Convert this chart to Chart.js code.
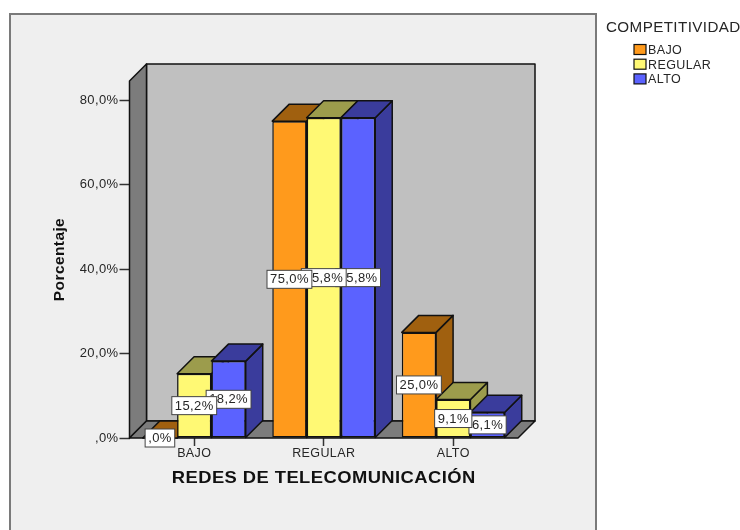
<!DOCTYPE html>
<html><head><meta charset="utf-8">
<style>html,body{margin:0;padding:0;background:#fff}#box{position:relative;width:740px;height:530px}</style>
<script src="https://cdn.jsdelivr.net/npm/chart.js@4"></script>
</head><body><div id="box"><canvas id="c" width="740" height="530"></canvas></div>
<script>
const categories = ['BAJO','REGULAR','ALTO'];
const seriesNames = ['BAJO','REGULAR','ALTO'];
const bajo = [0, 75.0, 25.0];
const regular = [15.2, 75.8, 9.1];
const alto = [18.2, 75.8, 6.1];
const tickValues = [0, 20, 40, 60, 80];
const legendTitle = 'COMPETITIVIDAD';
const xTitle = 'REDES DE TELECOMUNICACIÓN';
const yTitle = 'Porcentaje';
const FRONT = ['#FF9A1C','#FFF974','#5B62FF'];
const DARK = ['#A0600F','#9C9C4C','#3A3C9C'];
const TOPS = ['#A0600F','#9C9C4C','#3A3C9C'];
const DEPTH = 17, FONT = 'Liberation Sans, Arial, sans-serif', INK = '#262626', LINE = '#111';
const pct = v => (v === 0 ? ',0' : v.toFixed(1).replace('.', ',')) + '%';
function poly(ctx, pts, fill){
  ctx.beginPath(); pts.forEach((p,i)=> i?ctx.lineTo(p[0],p[1]):ctx.moveTo(p[0],p[1])); ctx.closePath();
  ctx.fillStyle = fill; ctx.fill(); ctx.strokeStyle = LINE; ctx.lineWidth = 1.5; ctx.lineJoin='round'; ctx.stroke();
}
const scene = {
  id:'scene',
  beforeDraw(chart){
    const {ctx,width,height} = chart;
    ctx.letterSpacing='0.4px';
    ctx.save();
    ctx.fillStyle='#fff'; ctx.fillRect(0,0,width,height);
    ctx.fillStyle='#EFEFEF'; ctx.fillRect(10,14,586,height);
    ctx.strokeStyle='#7A7A7A'; ctx.lineWidth=2; ctx.strokeRect(10,14,586,height+10);
    ctx.fillStyle=INK; ctx.textBaseline='middle'; ctx.textAlign='left';
    ctx.font='15.2px '+FONT; ctx.fillText(legendTitle,606,28);
    ctx.font='12.5px '+FONT;
    chart.data.datasets.forEach((ds,i)=>{
      const y = 49.5 + i*14.7;
      ctx.fillStyle=ds.backgroundColor; ctx.strokeStyle=LINE; ctx.lineWidth=1.2;
      ctx.fillRect(634,y-5,12,10); ctx.strokeRect(634,y-5,12,10);
      ctx.fillStyle=INK; ctx.fillText(ds.label,648,y+1);
    });
    ctx.restore();
  },
  beforeDatasetsDraw(chart){
    const {ctx,chartArea:{left:l,right:r,top:t,bottom:b}} = chart;
    const d = DEPTH;
    ctx.save();
    poly(ctx,[[l+d,t-d],[r+d,t-d],[r+d,b-d],[l+d,b-d]],'#C0C0C0');
    poly(ctx,[[l,t],[l+d,t-d],[l+d,b-d],[l,b]],'#7C7C7C');
    poly(ctx,[[l,b],[l+d,b-d],[r+d,b-d],[r,b]],'#7C7C7C');
    chart.data.datasets.forEach((ds,i)=>{
      chart.getDatasetMeta(i).data.forEach(bar=>{
        const p = bar.getProps(['x','y','base','width'],true);
        const x0=p.x-p.width/2, x1=p.x+p.width/2;
        poly(ctx,[[x1,p.y],[x1+d,p.y-d],[x1+d,p.base-d],[x1,p.base]],DARK[i]);
        poly(ctx,[[x0,p.y],[x0+d,p.y-d],[x1+d,p.y-d],[x1,p.y]],TOPS[i]);
      });
    });
    ctx.restore();
  },
  afterDatasetsDraw(chart){
    const {ctx} = chart;
    ctx.save();
    ctx.font='13px '+FONT; ctx.textAlign='center'; ctx.textBaseline='middle';
    for(let i=chart.data.datasets.length-1;i>=0;i--){
      const ds = chart.data.datasets[i];
      chart.getDatasetMeta(i).data.forEach((bar,j)=>{
        const p = bar.getProps(['x','y','base'],true);
        const cy=(p.y+p.base)/2, txt=pct(ds.data[j]);
        const w=ctx.measureText(txt).width+6, h=18;
        ctx.fillStyle='#fff'; ctx.strokeStyle='#444'; ctx.lineWidth=1;
        ctx.fillRect(p.x-w/2,cy-h/2,w,h); ctx.strokeRect(p.x-w/2,cy-h/2,w,h);
        ctx.fillStyle=INK; ctx.fillText(txt,p.x,cy+0.5);
      });
    }
    ctx.restore();
  }
};
const mk = (name,data,i)=>({label:name,data,backgroundColor:FRONT[i],borderColor:LINE,borderWidth:1.5,borderSkipped:false,categoryPercentage:0.795,barPercentage:1,clip:false});
new Chart(document.getElementById('c'),{
  type:'bar',
  data:{labels:categories,datasets:[mk(seriesNames[0],bajo,0),mk(seriesNames[1],regular,1),mk(seriesNames[2],alto,2)]},
  plugins:[scene],
  options:{
    responsive:false,animation:false,
    layout:{padding:{left:0,top:81,right:222,bottom:0}},
    plugins:{legend:{display:false},tooltip:{enabled:false}},
    scales:{
      x:{
        afterFit(s){
          s.height=92;
          if(!s._wrapped){
            s._wrapped=true;
            const orig=s.drawTitle;
            s.drawTitle=function(){
              const ctx=this.ctx, cx=(this.left+this.right)/2;
              ctx.save(); ctx.translate(cx,0); ctx.scale(1.113,1); ctx.translate(-cx,0);
              orig.call(this); ctx.restore();
            };
          }
        },
        grid:{display:true,drawOnChartArea:false,tickLength:8,color:'#333',tickWidth:1.5,offset:false},
        border:{display:false},
        ticks:{color:INK,font:{family:FONT,size:12.5},padding:0,maxRotation:0},
        title:{display:true,text:xTitle,color:'#111',font:{family:FONT,size:16.5,weight:'bold'},padding:{top:0,bottom:42}}
      },
      y:{
        min:0,max:84.5,
        afterFit(s){s.width=129.5;},
        afterBuildTicks(s){s.ticks=tickValues.map(v=>({value:v}));},
        grid:{display:true,drawOnChartArea:false,tickLength:10,color:'#333',tickWidth:1.5},
        border:{display:false},
        ticks:{color:INK,font:{family:FONT,size:13},padding:1,includeBounds:false,callback:v=>pct(v)},
        title:{display:true,text:yTitle,color:'#111',font:{family:FONT,size:15.5,weight:'bold'},padding:{top:50,bottom:0}}
      }
    }
  }
});
</script></body></html>
